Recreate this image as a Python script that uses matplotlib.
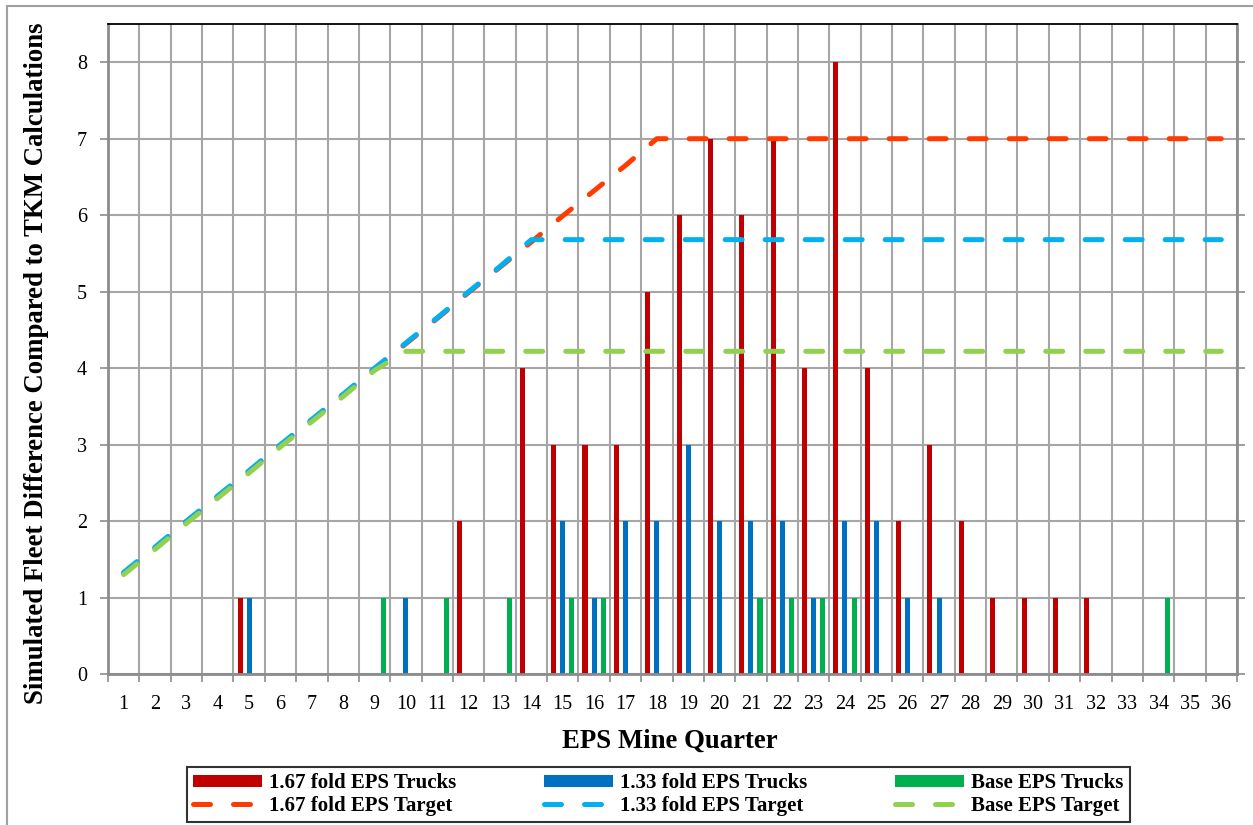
import matplotlib
matplotlib.use("Agg")
import matplotlib.pyplot as plt
from matplotlib.patches import Rectangle
import numpy as np

# EPS mine quarters (categories)
quarters = list(range(1, 37))

# Simulated fleet difference (trucks) per quarter
trucks_167 = [0, 0, 0, 0, 1, 0, 0, 0, 0, 0, 0, 2, 0, 4, 3, 3, 3, 5, 6, 7, 6, 7, 4, 8,
              4, 2, 3, 2, 1, 1, 1, 1, 0, 0, 0, 0]
trucks_133 = [0, 0, 0, 0, 1, 0, 0, 0, 0, 1, 0, 0, 0, 0, 2, 1, 2, 2, 3, 2, 2, 2, 1, 2,
              2, 1, 1, 0, 0, 0, 0, 0, 0, 0, 0, 0]
trucks_base = [0, 0, 0, 0, 0, 0, 0, 0, 1, 0, 1, 0, 1, 0, 1, 1, 0, 0, 0, 0, 1, 1, 1, 1,
               0, 0, 0, 0, 0, 0, 0, 0, 0, 1, 0, 0]

# Target lines
target_167 = [1.32, 1.65, 1.99, 2.32, 2.65, 2.99, 3.32, 3.65, 3.99, 4.32, 4.65, 4.99,
              5.32, 5.65, 5.99, 6.32, 6.65, 7.0] + [7.0] * 18
target_133 = [1.33, 1.66, 2.00, 2.33, 2.66, 3.00, 3.33, 3.66, 4.00, 4.33, 4.66, 5.00,
              5.33, 5.68] + [5.68] * 22
target_base = [1.30, 1.63, 1.97, 2.30, 2.63, 2.97, 3.30, 3.63, 3.97, 4.22] + [4.22] * 26

plt.rcParams["font.family"] = ["Liberation Serif", "DejaVu Serif"]

fig = plt.figure(figsize=(12.53, 8.25), dpi=100)
ax = fig.add_axes([108 / 1253, 1 - 674 / 825, 1129 / 1253, 650 / 825])

x = np.array(quarters)
bw = 0.16
ax.bar(x - 0.29, trucks_167, width=bw, color="#C00000", zorder=2)
ax.bar(x, trucks_133, width=bw, color="#0070C0", zorder=2)
ax.bar(x + 0.29, trucks_base, width=bw, color="#00B050", zorder=2)

dash = (3.4, 4.6)
l1, = ax.plot(x, target_167, color="#FF3B00", lw=3.6, dashes=dash, dash_capstyle="round", zorder=3)
l2, = ax.plot(x, target_133, color="#00B0F0", lw=3.6, dashes=dash, dash_capstyle="round", zorder=3)
l3, = ax.plot(x, target_base, color="#92D050", lw=3.6, dashes=dash, dash_capstyle="round", zorder=3)

ax.set_xlim(0.5, 36.5)
ax.set_ylim(0, 8.5)
ax.set_yticks(range(0, 9))
ax.set_xticks(np.arange(0.5, 37, 1))
ax.set_xticklabels([])
ax.set_xticks(x, minor=True)
ax.set_xticklabels([str(q) for q in quarters], minor=True, fontsize=14.5)
ax.tick_params(axis="x", which="major", length=6, width=1.2, color="#8C8C8C", direction="out")
ax.tick_params(axis="x", which="minor", length=0, pad=15)
ax.tick_params(axis="y", which="major", length=6, width=1.2, color="#8C8C8C", direction="out",
               labelsize=14.5, pad=9, right=True)

ax.set_axisbelow(True)
ax.grid(True, which="major", color="#A6A6A6", lw=1.5)

for side in ["left", "bottom", "right"]:
    ax.spines[side].set_color("#8C8C8C")
    ax.spines[side].set_linewidth(2)
ax.spines["top"].set_color("black")
ax.spines["top"].set_linewidth(1.3)

ax.set_xlabel("EPS Mine Quarter", fontsize=19.3, fontweight="bold", va="center")
ax.xaxis.set_label_coords(0.498, -0.103)
ax.set_ylabel("Simulated Fleet Difference Compared to TKM Calculations", fontsize=19.3,
              fontweight="bold", va="center")
ax.yaxis.set_label_coords(-0.063, 0.478)

handles = [ax.containers[0], l1, ax.containers[1], l2, ax.containers[2], l3]
labels = ["1.67 fold EPS Trucks", "1.67 fold EPS Target",
          "1.33 fold EPS Trucks", "1.33 fold EPS Target",
          "Base EPS Trucks", "Base EPS Target"]
leg = fig.legend(handles, labels, ncol=3, loc="lower left", mode="expand",
                 bbox_to_anchor=(187 / 1253, 3 / 825, 943 / 1253, 57 / 825),
                 prop={"weight": "bold", "size": 15}, handlelength=3.3,
                 handleheight=0.55, fancybox=False, edgecolor="black",
                 borderaxespad=0, labelspacing=0.12, handletextpad=0.35, borderpad=0.3)
leg.get_frame().set_linewidth(1.5)

fig.patches.append(Rectangle((7 / 1253, -0.01), 1.0, 1 - 6 / 825 + 0.01,
                             transform=fig.transFigure, fill=False,
                             edgecolor="#A0A0A0", lw=1.5))

fig.savefig("out.png", dpi=100)
